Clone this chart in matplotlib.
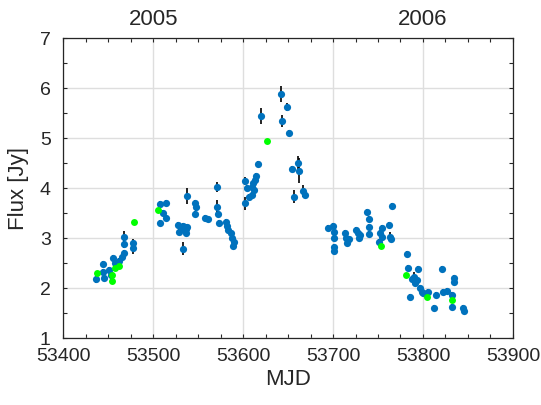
import matplotlib
matplotlib.use("Agg")
import matplotlib.pyplot as plt
from matplotlib.ticker import MultipleLocator
import matplotlib.transforms as mtransforms

plt.rcParams["font.family"] = ["Liberation Sans", "DejaVu Sans"]

# blue points (with error bars)
blue_mjd = [53436, 53444, 53444.5, 53445.6, 53451, 53453, 53455.6, 53457, 53462, 53465,
            53467, 53467, 53467, 53477, 53478, 53508, 53514, 53511, 53514, 53508,
            53528, 53533.5, 53538, 53529, 53536.5, 53532, 53537, 53533, 53538, 53546.5,
            53548, 53546.5, 53557.6, 53561, 53571, 53570.6, 53572, 53573.5, 53581, 53582,
            53583.5, 53586, 53588, 53590, 53589, 53602, 53602, 53604.7, 53606, 53609.6,
            53611, 53612.5, 53613, 53614, 53617, 53609.6, 53619.6, 53642, 53649, 53643.6,
            53651, 53654, 53661, 53662, 53656.6, 53667, 53669, 53694.8, 53699.7, 53701.5,
            53701, 53701, 53701, 53713, 53714.5, 53718, 53715, 53726, 53728, 53730,
            53729, 53738, 53740, 53740, 53740, 53754, 53752, 53751.5, 53755, 53762,
            53763, 53765, 53766, 53782, 53783, 53794, 53787.5, 53790, 53791, 53793,
            53785.7, 53797, 53799, 53800.5, 53806, 53815, 53812.7, 53821, 53822.7, 53826.5,
            53832, 53832, 53834, 53834, 53844, 53846]
blue_flux = [2.18, 2.49, 2.33, 2.20, 2.37, 2.27, 2.60, 2.51, 2.55, 2.63,
             2.70, 3.02, 2.89, 2.91, 2.81, 3.68, 3.70, 3.51, 3.41, 3.30,
             3.27, 3.25, 3.23, 3.13, 3.10, 3.19, 3.18, 2.79, 3.85, 3.70,
             3.63, 3.49, 3.40, 3.39, 4.02, 3.63, 3.48, 3.31, 3.32, 3.25,
             3.17, 3.10, 3.00, 2.93, 2.85, 3.70, 4.15, 4.00, 3.83, 4.03,
             4.10, 3.97, 4.17, 4.25, 4.48, 3.87, 5.45, 5.89, 5.63, 5.35,
             5.11, 4.39, 4.51, 4.35, 3.83, 3.95, 3.87, 3.21, 3.25, 3.13,
             3.00, 2.82, 2.75, 3.11, 3.01, 2.98, 2.90, 3.17, 3.11, 3.07,
             3.01, 3.52, 3.39, 3.23, 3.09, 3.20, 3.11, 2.93, 3.03, 3.27,
             3.03, 2.98, 3.65, 2.68, 2.40, 2.39, 2.18, 2.22, 2.10, 2.17,
             1.83, 2.00, 1.93, 1.90, 1.92, 1.87, 1.61, 2.39, 1.92, 1.95,
             1.87, 1.63, 2.20, 2.13, 1.60, 1.55]
blue_err = [0.08, 0.06, 0.06, 0.06, 0.06, 0.06, 0.06, 0.06, 0.06, 0.06,
            0.06, 0.13, 0.08, 0.08, 0.13, 0.06, 0.06, 0.06, 0.06, 0.06,
            0.06, 0.06, 0.06, 0.06, 0.06, 0.06, 0.06, 0.13, 0.16, 0.06,
            0.08, 0.06, 0.06, 0.06, 0.10, 0.13, 0.06, 0.06, 0.06, 0.06,
            0.06, 0.06, 0.06, 0.06, 0.06, 0.13, 0.08, 0.06, 0.06, 0.06,
            0.06, 0.06, 0.06, 0.06, 0.06, 0.06, 0.16, 0.16, 0.08, 0.12,
            0.06, 0.06, 0.13, 0.25, 0.13, 0.12, 0.06, 0.06, 0.06, 0.06,
            0.06, 0.06, 0.06, 0.06, 0.06, 0.06, 0.06, 0.06, 0.06, 0.06,
            0.06, 0.06, 0.06, 0.06, 0.06, 0.06, 0.06, 0.06, 0.06, 0.06,
            0.10, 0.06, 0.06, 0.06, 0.06, 0.06, 0.06, 0.10, 0.06, 0.06,
            0.06, 0.06, 0.06, 0.06, 0.06, 0.06, 0.06, 0.06, 0.06, 0.06,
            0.06, 0.06, 0.06, 0.06, 0.06, 0.06]

# green points
green_mjd = [53437, 53454, 53454.5, 53457, 53462, 53479, 53505, 53627, 53753, 53781, 53804, 53832]
green_flux = [2.30, 2.27, 2.15, 2.40, 2.45, 3.33, 3.57, 4.95, 2.85, 2.27, 1.83, 1.77]

years = ["2005", "2006"]
year_mjd = [53500, 53800]

TXT = "#262626"
fig = plt.figure(figsize=(5.41, 4.05), dpi=100)
ax = fig.add_axes([0.117, 0.165, 0.831, 0.740])

ax.errorbar(blue_mjd, blue_flux, yerr=blue_err, fmt="none", ecolor="black",
            elinewidth=1.2, capsize=0, zorder=2)
ax.plot(blue_mjd, blue_flux, "o", color="#0072BD", markersize=5.2,
        markeredgewidth=0, zorder=3)
ax.plot(green_mjd, green_flux, "o", color="#00FF00", markersize=5.0,
        markeredgewidth=0, zorder=4)

ax.set_xlim(53400, 53900)
ax.set_ylim(1, 7)
ax.xaxis.set_major_locator(MultipleLocator(100))
ax.xaxis.set_minor_locator(MultipleLocator(25))
ax.yaxis.set_major_locator(MultipleLocator(1))
ax.yaxis.set_minor_locator(MultipleLocator(0.5))
ax.tick_params(which="both", direction="in", top=True, right=True,
               length=3, width=0.8, color=TXT, labelcolor=TXT, labelsize=14)
ax.tick_params(axis="x", pad=7)
ax.tick_params(axis="y", pad=9)
ax.grid(True, which="major", color="#dedede", linewidth=1.0)
ax.set_axisbelow(True)
for s in ax.spines.values():
    s.set_color(TXT)
    s.set_linewidth(0.9)

ax.set_xlabel("MJD", fontsize=16, color=TXT, labelpad=3)
ax.set_ylabel("Flux [Jy]", fontsize=16, color=TXT, labelpad=8)

trans = mtransforms.blended_transform_factory(ax.transData, ax.transAxes)
for yr, m in zip(years, year_mjd):
    ax.text(m, 1.028, yr, transform=trans, ha="center", va="bottom",
            fontsize=16, color=TXT)

fig.savefig("out.png", dpi=100)
